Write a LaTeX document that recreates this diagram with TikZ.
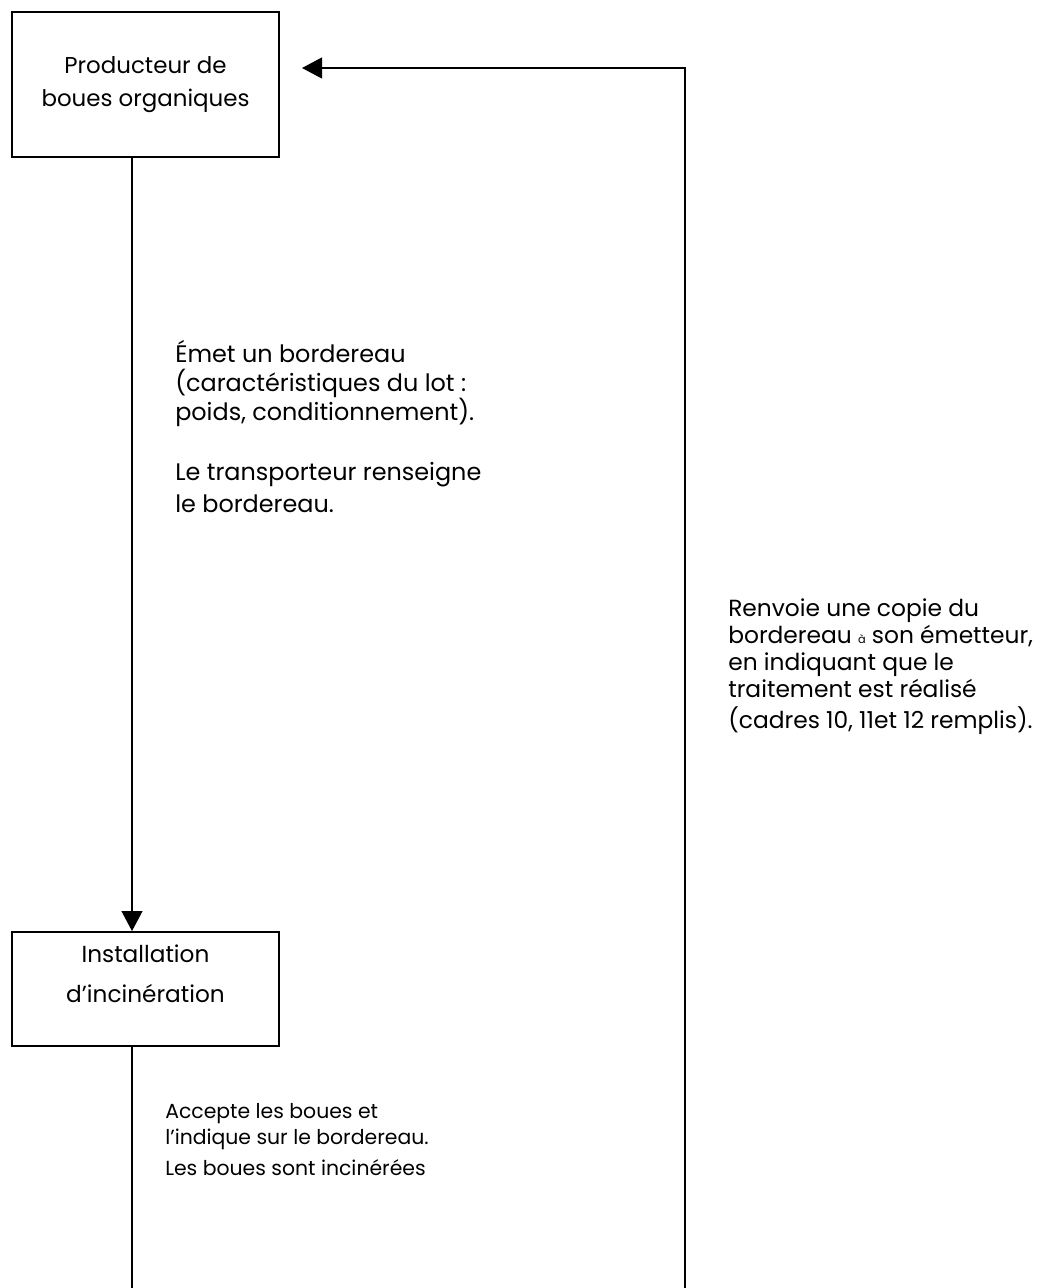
\documentclass[tikz,border=0pt]{standalone}
\usepackage{fontspec}
\setmainfont{Poppins}
\usetikzlibrary{arrows.meta, positioning}

\begin{document}
\begin{tikzpicture}[x=0.025cm, y=-0.025cm,
    box/.style={draw, line width=1.3pt, minimum width=6.675cm, align=center, inner sep=0pt},
    note/.style={anchor=base west, align=left, inner sep=0pt},
    trait/.style={line width=1.3pt},
    flow/.style={trait, -{Triangle[length=0.5cm, width=0.52cm]}}]
    \useasboundingbox (0,0) rectangle (1052,1288);

    % Boxes
    \node (prod) [box, minimum height=3.625cm, font=\fontsize{16.3}{23.4}\selectfont] at (145.5,84.5)
        {Producteur de\\boues organiques};
    \node (incin) [box, minimum height=2.85cm, text depth=0.75cm, font=\fontsize{16.5}{28.4}\selectfont] at (145.5,989)
        {Installation\\d'incinération};

    % Helper coordinates
    \coordinate (axe) at (132,0);
    \coordinate (bas) at (0,1288);
    \coordinate (retour) at (685,1288);
    \coordinate (cible) at (302,68);

    % Notes (anchored on their last baseline)
    \node (emet) [note, font=\fontsize{17}{20.6}\selectfont] at (175,512)
        {Émet un bordereau\\(caractéristiques du lot :\\poids, conditionnement).\\[0.76cm]Le transporteur renseigne\\[0.07cm]le bordereau.};
    \node (renvoi) [note, font=\fontsize{16.6}{19.2}\selectfont] at (728,728)
        {Renvoie une copie du\\bordereau {\fontsize{8}{8}\selectfont à} son émetteur,\\en indiquant que le\\traitement est réalisé\\[0.1cm](cadres 10, 11et 12 remplis).};
    \node (accept) [note, font=\fontsize{14.5}{18.5}\selectfont] at (165,1175)
        {Accepte les boues et\\l’indique sur le bordereau.\\[0.1cm]Les boues sont incinérées};

    % Arrows
    \draw[flow] (prod.south -| axe) -- (incin.north -| axe);
    \draw[trait] (incin.south -| axe) -- (axe |- bas);
    \draw[flow] (retour) |- (cible);
\end{tikzpicture}
\end{document}
